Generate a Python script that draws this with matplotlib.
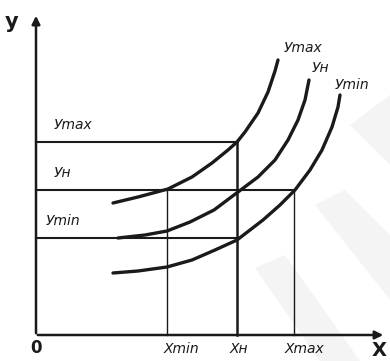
import matplotlib.pyplot as plt
from matplotlib.patches import Polygon

# Curve readings (origin at the axes corner, units ~ pixels)
ymax_x = [77, 102, 132, 156, 176, 192, 201, 209, 222, 232, 239, 242]
ymax_y = [132, 138, 146, 158, 172, 185, 193, 203, 222, 243, 264, 275]

yn_x = [82, 109, 131, 154, 178, 202, 222, 239, 252, 262, 269, 273]
yn_y = [97, 100, 104, 113, 125, 143, 158, 175, 195, 215, 235, 255]

ymin_x = [77, 102, 131, 156, 179, 201, 227, 244, 259, 274, 286, 296, 302, 304]
ymin_y = [62, 64, 68, 75, 85, 95, 115, 130, 145, 165, 185, 208, 228, 240]

# Levels
level_ymax = 193
level_yn = 145
level_ymin = 97
x_min = 131
x_n = 201
x_max = 258

fig = plt.figure(figsize=(3.9, 3.61), dpi=100)
ax = fig.add_axes([0, 0, 1, 1])
ax.set_xlim(-36, 354)
ax.set_ylim(-26, 335)
ax.axis('off')

# faint watermark shapes
for pts in ([(279, 130), (309, 145), (354, 100), (354, 35)],
            [(219, 67), (249, 80), (324, -26), (284, -26)],
            [(314, 210), (354, 240), (354, 170)]):
    ax.add_patch(Polygon(pts, closed=True, fc='#f4f4f4', ec='none', zorder=0))

k = '#1a1a1a'
# axes with arrows
ax.annotate('', xy=(0, 322), xytext=(0, -1),
            arrowprops=dict(arrowstyle='-|>', lw=1.8, color=k, mutation_scale=12))
ax.annotate('', xy=(350, 0), xytext=(-1, 0),
            arrowprops=dict(arrowstyle='-|>', lw=1.8, color=k, mutation_scale=12))

# level lines
ax.plot([0, x_n], [level_ymax, level_ymax], color=k, lw=1.5)
ax.plot([0, x_max], [level_yn, level_yn], color=k, lw=1.5)
ax.plot([0, x_n], [level_ymin, level_ymin], color=k, lw=1.5)
ax.plot([x_n, x_n], [0, level_ymax], color=k, lw=1.8)
ax.plot([x_min, x_min], [0, level_yn], color=k, lw=1.0)
ax.plot([x_max, x_max], [0, level_yn], color=k, lw=1.0)

# curves
for cx, cy in ((ymax_x, ymax_y), (yn_x, yn_y), (ymin_x, ymin_y)):
    ax.plot(cx, cy, color=k, lw=2.4, solid_capstyle='round', solid_joinstyle='round')

txt = dict(color=k, style='italic', fontsize=10)
ax.text(-24, 313, 'у', fontsize=15, fontweight='bold', color=k, ha='center', va='center')
ax.text(0, -13, '0', fontsize=12, fontweight='bold', color=k, ha='center', va='center')
ax.text(343, -15, 'X', fontsize=14, fontweight='bold', color=k, ha='center', va='center')

ax.text(18, 206, 'Уmax', **txt)
ax.text(18, 158, 'Ун', **txt)
ax.text(10, 110, 'Уmin', **txt)
ax.text(248, 283, 'Уmax', **txt)
ax.text(276, 263, 'Ун', **txt)
ax.text(299, 246, 'Уmin', **txt)
ax.text(x_min + 14, -14, 'Xmin', ha='center', va='center', **txt)
ax.text(x_n + 2, -14, 'Xн', ha='center', va='center', **txt)
ax.text(x_max + 10, -14, 'Xmax', ha='center', va='center', **txt)

fig.savefig('out.png', dpi=100)
